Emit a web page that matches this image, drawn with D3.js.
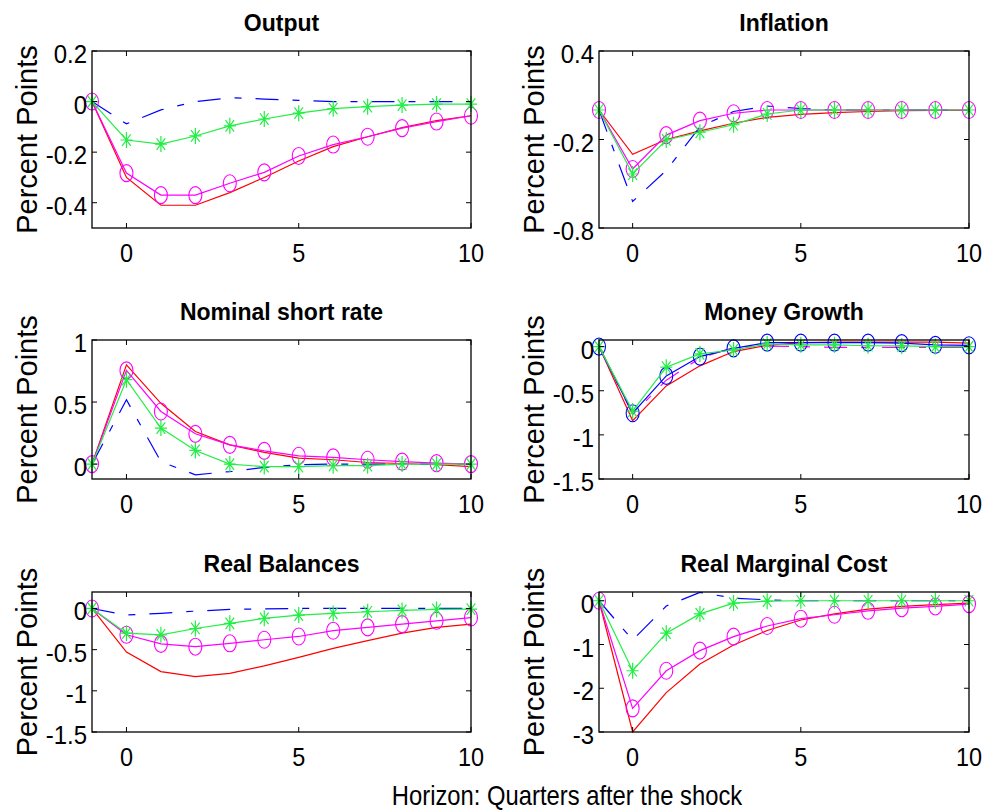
<!DOCTYPE html>
<html>
<head>
<meta charset="utf-8">
<script src="https://d3js.org/d3.v7.min.js"></script>
<style>
  body { margin: 0; background: #ffffff; }
  svg { display: block; }
</style>
</head>
<body>
<div id="chart"></div>
<script>
// horizon in quarters (-1 is the pre-shock steady state)
var horizon = [-1, 0, 1, 2, 3, 4, 5, 6, 7, 8, 9, 10];
var xTicks = [0, 5, 10];

// output
var outputBlue    = [0, -0.088, -0.033, 0.0, 0.015, 0.01, 0.005, 0, 0, 0, 0, 0];
var outputGreen   = [0, -0.152, -0.168, -0.136, -0.096, -0.069, -0.046, -0.028, -0.02, -0.014, -0.01, -0.01];
var outputMagenta = [0, -0.283, -0.37, -0.37, -0.323, -0.28, -0.215, -0.17, -0.139, -0.105, -0.079, -0.056];
var outputRed     = [0, -0.30, -0.41, -0.41, -0.36, -0.30, -0.235, -0.178, -0.139, -0.103, -0.075, -0.056];
var outputTicks   = [0.2, 0, -0.2, -0.4];

// inflation
var inflationBlue    = [0, -0.62, -0.41, -0.113, -0.01, 0.027, 0.01, 0, 0, 0, 0, 0];
var inflationGreen   = [0, -0.434, -0.203, -0.151, -0.10, -0.027, 0, 0, 0, 0, 0, 0];
var inflationMagenta = [0, -0.40, -0.17, -0.072, -0.022, 0, 0, 0, 0, 0, 0, 0];
var inflationRed     = [0, -0.30, -0.20, -0.142, -0.09, -0.05, -0.03, -0.018, -0.01, -0.005, -0.003, -0.002];
var inflationTicks   = [0.4, -0.2, -0.8];

// nominal short rate
var rateBlue    = [0, 0.518, 0.02, -0.086, -0.06, -0.027, -0.005, 0, 0, 0, 0, 0];
var rateGreen   = [0, 0.68, 0.29, 0.11, 0.0, -0.02, -0.02, -0.013, -0.013, 0, 0, 0];
var rateMagenta = [0, 0.755, 0.424, 0.244, 0.155, 0.107, 0.067, 0.054, 0.035, 0.02, 0.008, 0];
var rateRed     = [0, 0.80, 0.49, 0.263, 0.155, 0.094, 0.048, 0.035, 0.013, 0.005, -0.005, -0.02];
var rateTicks   = [1, 0.5, 0];

// money growth
var moneyBlue    = [0, -0.755, -0.332, -0.113, -0.02, 0.045, 0.045, 0.045, 0.045, 0.04, 0.02, 0.015];
var moneyGreen   = [0, -0.73, -0.233, -0.083, -0.038, 0.03, 0.02, 0.02, 0.01, 0.008, 0, 0];
var moneyMagenta = [0, -0.77, -0.38, -0.13, -0.01, 0.005, 0, -0.008, -0.008, -0.008, -0.008, -0.008];
var moneyRed     = [0, -0.84, -0.445, -0.218, -0.056, 0.015, 0.045, 0.05, 0.05, 0.05, 0.05, 0.04];
var moneyTicks   = [0, -0.5, -1, -1.5];

// real balances
var balancesBlue    = [0, -0.08, -0.06, -0.032, -0.012, -0.005, 0, 0, 0, 0, 0, 0];
var balancesGreen   = [0, -0.30, -0.32, -0.243, -0.18, -0.12, -0.08, -0.06, -0.04, -0.024, -0.012, -0.008];
var balancesMagenta = [0, -0.32, -0.43, -0.464, -0.423, -0.38, -0.34, -0.27, -0.23, -0.19, -0.15, -0.11];
var balancesRed     = [0, -0.53, -0.767, -0.828, -0.787, -0.698, -0.593, -0.484, -0.39, -0.30, -0.229, -0.19];
var balancesTicks   = [0, -0.5, -1, -1.5];

// real marginal cost
var costBlue    = [0, -0.9, -0.12, 0.19, 0.06, 0.02, 0, 0, 0, 0, 0, 0];
var costGreen   = [0, -1.6, -0.74, -0.30, -0.053, -0.01, 0, 0, 0, 0, 0, 0];
var costMagenta = [0, -2.46, -1.6, -1.14, -0.82, -0.577, -0.41, -0.32, -0.23, -0.17, -0.13, -0.076];
var costRed     = [0, -3.0, -2.1, -1.446, -1.01, -0.68, -0.44, -0.30, -0.19, -0.13, -0.09, -0.053];
var costTicks   = [0, -1, -2, -3];

var W = 990, H = 810;
var FONT = "'Liberation Sans', Arial, Helvetica, sans-serif";
var DASHDOT = "23,14,7,14";

var svg = d3.select("#chart").append("svg")
    .attr("width", W)
    .attr("height", H);

//text with a horizontal squeeze, like the narrow matlab screen font
function addText(g, x, y, str, size, sx, anchor, weight){
    g.append("text")
      .attr("transform", "translate(" + x + "," + y + ") scale(" + sx + ",1)")
      .attr("text-anchor", anchor)
      .attr("font-family", FONT)
      .attr("font-size", size)
      .attr("font-weight", weight || "normal")
      .attr("fill", "#000")
      .text(str);
}

//asterisk marker, matlab '*'
function starPath(cx, cy){
    var hw = 6, hh = 8, d = 0.72;
    return "M" + (cx - hw) + "," + cy + "L" + (cx + hw) + "," + cy +
      "M" + cx + "," + (cy - hh) + "L" + cx + "," + (cy + hh) +
      "M" + (cx - hw * d) + "," + (cy - hh * d) + "L" + (cx + hw * d) + "," + (cy + hh * d) +
      "M" + (cx - hw * d) + "," + (cy + hh * d) + "L" + (cx + hw * d) + "," + (cy - hh * d);
}

//one subplot. box is [left, top, right, bottom] in pixels
function drawPanel(box, title, yDomain, yTicks, series){
    var g = svg.append("g");
    var x = d3.scaleLinear().domain([-1, 10]).range([box[0], box[2]]);
    var y = d3.scaleLinear().domain(yDomain).range([box[3], box[1]]);

    var line = d3.line()
      .x(function(d, i){ return x(horizon[i]); })
      .y(function(d){ return y(d); });

    //lines and markers
    series.forEach(function(s){
      g.append("path")
        .attr("d", line(s.values))
        .attr("fill", "none")
        .attr("stroke", s.color)
        .attr("stroke-width", 1.2)
        .attr("stroke-dasharray", s.dash ? DASHDOT : null);

      if (s.marker == "o") {
        g.selectAll(null).data(s.values).enter().append("ellipse")
          .attr("cx", function(d, i){ return x(horizon[i]); })
          .attr("cy", function(d){ return y(d); })
          .attr("rx", 6.5)
          .attr("ry", 8.5)
          .attr("fill", "none")
          .attr("stroke", s.color)
          .attr("stroke-width", 1.1);
      }
      if (s.marker == "*") {
        g.selectAll(null).data(s.values).enter().append("path")
          .attr("d", function(d, i){ return starPath(x(horizon[i]), y(d)); })
          .attr("fill", "none")
          .attr("stroke", s.color)
          .attr("stroke-width", 1.2);
      }
    });

    //frame
    g.append("rect")
      .attr("x", box[0])
      .attr("y", box[1])
      .attr("width", box[2] - box[0])
      .attr("height", box[3] - box[1])
      .attr("fill", "none")
      .attr("stroke", "#000")
      .attr("stroke-width", 1.3);

    //inward ticks on all four sides
    var tl = 5;
    xTicks.forEach(function(t){
      var px = x(t);
      g.append("line").attr("x1", px).attr("x2", px).attr("y1", box[3]).attr("y2", box[3] - tl)
        .attr("stroke", "#000").attr("stroke-width", 1);
      g.append("line").attr("x1", px).attr("x2", px).attr("y1", box[1]).attr("y2", box[1] + tl)
        .attr("stroke", "#000").attr("stroke-width", 1);
      addText(g, px, box[3] + 34, String(t), 25.5, 0.92, "middle");
    });
    yTicks.forEach(function(t){
      var py = y(t);
      g.append("line").attr("x1", box[0]).attr("x2", box[0] + tl).attr("y1", py).attr("y2", py)
        .attr("stroke", "#000").attr("stroke-width", 1);
      g.append("line").attr("x1", box[2]).attr("x2", box[2] - tl).attr("y1", py).attr("y2", py)
        .attr("stroke", "#000").attr("stroke-width", 1);
      addText(g, box[0] - 5, py + 12, String(t), 25.5, 0.94, "end");
    });

    //title and y label
    addText(g, (box[0] + box[2]) / 2, box[1] - 20, title, 23, 1, "middle", "bold");
    var cy = (box[1] + box[3]) / 2;
    g.append("text")
      .attr("transform", "translate(" + (box[0] - 55) + "," + cy + ") rotate(-90)")
      .attr("text-anchor", "middle")
      .attr("font-family", FONT)
      .attr("font-size", 29)
      .attr("fill", "#000")
      .text("Percent Points");
}

var RED = "#ff0000", BLUE = "#0000ff", MAGENTA = "#ff00ff", GREEN = "#22ee44";

function usual(blue, green, magenta, red){
    return [
      {values: red, color: RED},
      {values: blue, color: BLUE, dash: true},
      {values: magenta, color: MAGENTA, marker: "o"},
      {values: green, color: GREEN, marker: "*"}
    ];
}

var colL = [92, 471], colR = [599, 969];
var row1 = [51, 228], row2 = [340, 479], row3 = [592, 732];

drawPanel([colL[0], row1[0], colL[1], row1[1]], "Output", [-0.5, 0.2], outputTicks,
  usual(outputBlue, outputGreen, outputMagenta, outputRed));
drawPanel([colR[0], row1[0], colR[1], row1[1]], "Inflation", [-0.8, 0.4], inflationTicks,
  usual(inflationBlue, inflationGreen, inflationMagenta, inflationRed));
drawPanel([colL[0], row2[0], colL[1], row2[1]], "Nominal short rate", [-0.12, 1], rateTicks,
  usual(rateBlue, rateGreen, rateMagenta, rateRed));

//in money growth the blue and magenta styles are swapped
drawPanel([colR[0], row2[0], colR[1], row2[1]], "Money Growth", [-1.5, 0.075], moneyTicks, [
  {values: moneyRed, color: RED},
  {values: moneyMagenta, color: MAGENTA, dash: true},
  {values: moneyBlue, color: BLUE, marker: "o"},
  {values: moneyGreen, color: GREEN, marker: "*"}
]);

drawPanel([colL[0], row3[0], colL[1], row3[1]], "Real Balances", [-1.5, 0.2], balancesTicks,
  usual(balancesBlue, balancesGreen, balancesMagenta, balancesRed));
drawPanel([colR[0], row3[0], colR[1], row3[1]], "Real Marginal Cost", [-3, 0.2], costTicks,
  usual(costBlue, costGreen, costMagenta, costRed));

// common x label
addText(svg, 567, 805, "Horizon: Quarters after the shock", 28, 0.85, "middle");
</script>
</body>
</html>
